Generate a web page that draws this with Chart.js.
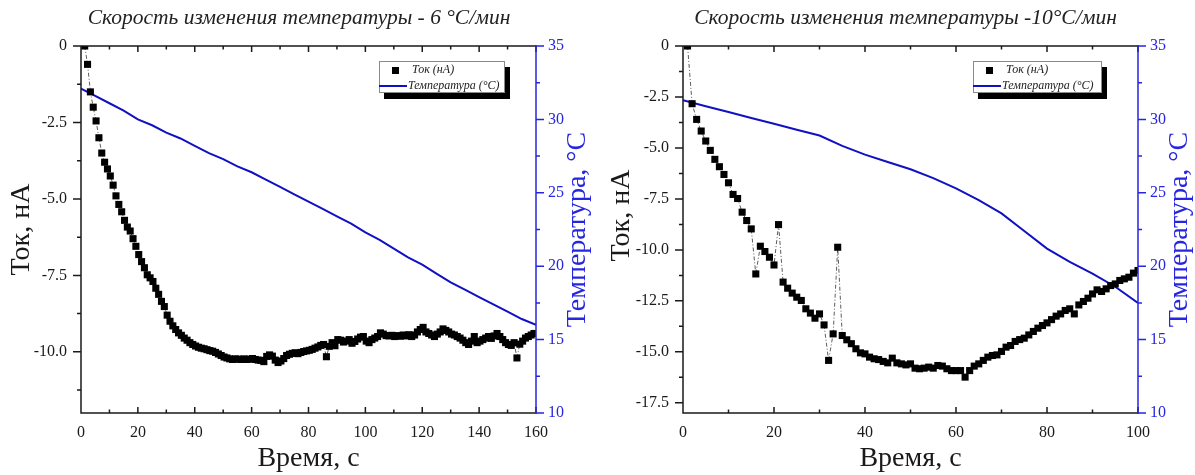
<!DOCTYPE html>
<html>
<head>
<meta charset="utf-8">
<script src="https://cdn.jsdelivr.net/npm/chart.js@4.4.1/dist/chart.umd.min.js"></script>
<style>
html, body { margin: 0; padding: 0; background: #fff; }
#wrap { position: relative; width: 1195px; height: 475px; overflow: hidden; }
canvas { position: absolute; top: 0; }
</style>
</head>
<body>
<div id="wrap">
  <canvas id="chartA" width="598" height="475" style="left:0"></canvas>
  <canvas id="chartB" width="597" height="475" style="left:598px"></canvas>
</div>
<script>
// ---- panel A: 6 °C/min ----
var titleA = 'Скорость изменения температуры - 6 °C/мин';
var currentStartA = 1.3;   // first sample, s
var currentStepA = 1;      // sampling interval, s
var currentA = [
  0, -0.6, -1.5, -2.0, -2.45, -3.0, -3.5, -3.8, -4.02, -4.25,
  -4.55, -4.9, -5.18, -5.42, -5.7, -5.92, -6.05, -6.3, -6.55, -6.82,
  -7.05, -7.25, -7.48, -7.58, -7.7, -7.92, -8.12, -8.35, -8.52, -8.8,
  -9.0, -9.15, -9.27, -9.38, -9.46, -9.55, -9.62, -9.7, -9.76, -9.81,
  -9.85, -9.88, -9.9, -9.93, -9.96, -9.98, -10.02, -10.07, -10.12, -10.17,
  -10.2, -10.23, -10.25, -10.23, -10.24, -10.25, -10.23, -10.25, -10.24, -10.22,
  -10.25, -10.27, -10.28, -10.32, -10.15, -10.1, -10.14, -10.27, -10.35, -10.3,
  -10.22, -10.12, -10.08, -10.05, -10.03, -10.06, -10.02, -9.99, -9.97, -9.95,
  -9.92, -9.88, -9.84, -9.79, -9.76, -10.16, -9.82, -9.7, -9.8, -9.6,
  -9.62, -9.68, -9.65, -9.6, -9.72, -9.66, -9.58, -9.52, -9.5, -9.65,
  -9.7, -9.6, -9.55, -9.5, -9.38, -9.42, -9.47, -9.48, -9.46, -9.5,
  -9.47, -9.49, -9.45, -9.48, -9.44, -9.5, -9.45, -9.35, -9.27, -9.2,
  -9.35, -9.4, -9.45, -9.5, -9.42, -9.35, -9.25, -9.3, -9.35, -9.42,
  -9.45, -9.5, -9.55, -9.62, -9.7, -9.76, -9.65, -9.5, -9.7, -9.65,
  -9.6, -9.55, -9.5, -9.56, -9.48, -9.4, -9.5, -9.6, -9.7, -9.76,
  -9.79, -9.7, -10.2, -9.75, -9.65, -9.55, -9.5, -9.45, -9.4
];
var tempTimeA = [0, 5, 10, 15, 20, 25, 30, 35, 40, 45, 50, 55, 60, 65, 70, 75, 80,
  85, 90, 95, 100, 105, 110, 115, 120, 125, 130, 135, 140, 145, 150, 155, 160];
var tempA = [32.1, 31.6, 31.1, 30.6, 30.0, 29.6, 29.1, 28.7, 28.2, 27.7, 27.3, 26.8, 26.4,
  25.9, 25.4, 24.9, 24.4, 23.9, 23.4, 22.9, 22.3, 21.8, 21.2, 20.6, 20.1, 19.5, 18.9,
  18.4, 17.9, 17.4, 16.9, 16.4, 16.0];
var xTicksA = [0, 20, 40, 60, 80, 100, 120, 140, 160];
var yTicksA = [0, -2.5, -5, -7.5, -10];

// ---- panel B: -10 °C/min ----
var titleB = 'Скорость изменения температуры -10°C/мин';
var currentStartB = 1;
var currentStepB = 1;
var currentB = [
  0, -2.83, -3.6, -4.17, -4.66, -5.12, -5.56, -5.92, -6.3, -6.71,
  -7.28, -7.48, -8.15, -8.56, -8.97, -11.18, -9.82, -10.08, -10.36, -10.74,
  -8.76, -11.58, -11.88, -12.12, -12.32, -12.48, -12.89, -13.1, -13.35, -13.14,
  -13.68, -15.42, -14.12, -9.87, -14.2, -14.41, -14.6, -14.85, -15.05, -15.1,
  -15.26, -15.34, -15.38, -15.47, -15.54, -15.31, -15.54, -15.59, -15.64, -15.59,
  -15.8, -15.83, -15.8, -15.75, -15.8, -15.67, -15.7, -15.83, -15.92, -15.92,
  -15.92, -16.24, -15.92, -15.7, -15.59, -15.42, -15.26, -15.18, -15.15, -14.98,
  -14.77, -14.69, -14.49, -14.4, -14.33, -14.17, -14.0, -13.84, -13.71, -13.58,
  -13.42, -13.25, -13.14, -12.97, -12.89, -13.14, -12.7, -12.53, -12.37, -12.16,
  -11.96, -12.04, -11.91, -11.75, -11.67, -11.5, -11.42, -11.34, -11.14, -11.01
];
var tempTimeB = [0, 5, 10, 15, 20, 25, 30, 35, 40, 45, 50, 55, 60, 65, 70, 75, 80, 85, 90, 95, 100];
var tempB = [31.3, 30.9, 30.5, 30.1, 29.7, 29.3, 28.9, 28.2, 27.6, 27.1, 26.6, 26.0, 25.3,
  24.5, 23.6, 22.4, 21.2, 20.3, 19.5, 18.6, 17.5];
var xTicksB = [0, 20, 40, 60, 80, 100];
var yTicksB = [0, -2.5, -5, -7.5, -10, -12.5, -15, -17.5];

var tempTicks = [10, 15, 20, 25, 30, 35];

var ink = '#1a1a1a';
var blueAxis = '#2626e0';
var blueLine = '#1010c4';
var serif = '"Liberation Serif", "Times New Roman", serif';

function pairs(xs, ys) {
  return ys.map(function (v, i) { return { x: xs[i], y: v }; });
}
function sampled(start, step, ys) {
  return ys.map(function (v, i) { return { x: start + i * step, y: v }; });
}
function fixedTicks(list) {
  return function (scale) {
    scale.ticks = list.map(function (v) { return { value: v }; });
  };
}
function isMult(v, m) {
  return Math.abs(v / m - Math.round(v / m)) < 1e-6;
}
function vText(ctx, text, x, y, color) {
  ctx.save();
  ctx.translate(x, y);
  ctx.rotate(-Math.PI / 2);
  ctx.font = '28px ' + serif;
  ctx.fillStyle = color;
  ctx.textAlign = 'center';
  ctx.textBaseline = 'middle';
  ctx.fillText(text, 0, 0);
  ctx.restore();
}

// spines, inward/outward ticks, axis titles and the boxed legend
var framePlugin = {
  id: 'frame',
  afterDatasetsDraw: function (chart, args, o) {
    var ctx = chart.ctx, a = chart.chartArea;
    var sx = chart.scales.x, sy = chart.scales.y, sr = chart.scales.y2;
    var v, p, len;
    ctx.save();
    ctx.lineWidth = 1.5;
    ctx.strokeStyle = ink;
    ctx.beginPath();
    ctx.moveTo(a.right, a.top); ctx.lineTo(a.left, a.top);
    ctx.lineTo(a.left, a.bottom); ctx.lineTo(a.right, a.bottom);
    for (v = sx.min; v <= sx.max + 1e-6; v += o.xMinor) {
      p = sx.getPixelForValue(v);
      len = isMult(v, o.xMinor * 2) ? 6 : 3.5;
      ctx.moveTo(p, a.bottom); ctx.lineTo(p, a.bottom - len);
      ctx.moveTo(p, a.top); ctx.lineTo(p, a.top + len);
    }
    for (v = 0; v >= o.yLow - 1e-6; v -= 1.25) {
      p = sy.getPixelForValue(v);
      len = isMult(v, 2.5) ? 8 : 4;
      ctx.moveTo(a.left, p); ctx.lineTo(a.left - len, p);
    }
    ctx.stroke();

    ctx.strokeStyle = blueAxis;
    ctx.beginPath();
    ctx.moveTo(a.right, a.top - 1); ctx.lineTo(a.right, a.bottom + 1);
    for (v = 10; v <= 35 + 1e-6; v += 2.5) {
      p = sr.getPixelForValue(v);
      len = isMult(v, 5) ? 8 : 4;
      ctx.moveTo(a.right, p); ctx.lineTo(a.right + len, p);
    }
    ctx.stroke();

    var midY = (a.top + a.bottom) / 2;
    vText(ctx, 'Ток, нА', o.leftTitleX, midY + o.leftTitleShift, ink);
    vText(ctx, 'Температура, °C', a.right + o.rightTitleGap, midY, blueAxis);

    // legend box with drop shadow
    var bx = a.right - o.legendRight, by = a.top + 15, bw = o.legendW, bh = 32;
    ctx.fillStyle = '#000';
    ctx.fillRect(bx + 5, by + 6, bw, bh);
    ctx.fillStyle = '#fff';
    ctx.fillRect(bx, by, bw, bh);
    ctx.lineWidth = 1;
    ctx.strokeStyle = '#8a8a8a';
    ctx.strokeRect(bx + 0.5, by + 0.5, bw - 1, bh - 1);
    ctx.fillStyle = '#000';
    ctx.fillRect(bx + 13, by + 6, 7, 7);
    ctx.strokeStyle = blueLine;
    ctx.lineWidth = 2;
    ctx.beginPath();
    ctx.moveTo(bx, by + 25); ctx.lineTo(bx + 28, by + 25);
    ctx.stroke();
    ctx.font = 'italic 12px ' + serif;
    ctx.fillStyle = '#222';
    ctx.textBaseline = 'middle';
    ctx.textAlign = 'left';
    ctx.fillText('Ток (нА)', bx + 33, by + 9);
    ctx.fillText('Температура (°C)', bx + 29, by + 25);
    ctx.restore();
  }
};

function makeChart(id, cfg) {
  return new Chart(document.getElementById(id), {
    type: 'line',
    data: {
      datasets: [
        {
          label: 'Ток (нА)',
          data: cfg.current,
          yAxisID: 'y',
          borderColor: '#333',
          borderWidth: 0.8,
          borderDash: [4, 2, 1, 2],
          pointStyle: 'rect',
          pointRadius: 5,
          pointBorderWidth: 0,
          pointBackgroundColor: '#000',
          tension: 0
        },
        {
          label: 'Температура (°C)',
          data: cfg.temp,
          yAxisID: 'y2',
          borderColor: blueLine,
          borderWidth: 2,
          pointRadius: 0,
          tension: 0
        }
      ]
    },
    options: {
      responsive: false,
      animation: false,
      devicePixelRatio: 1,
      layout: { padding: { left: cfg.padLeft, right: 0, top: 0, bottom: 0 } },
      plugins: {
        legend: { display: false },
        tooltip: { enabled: false },
        title: {
          display: true,
          text: cfg.title,
          color: '#222',
          font: { family: serif, size: 21.5, style: 'italic', weight: 'normal', lineHeight: 1.1 },
          padding: { top: 7, bottom: 15.35 }
        },
        frame: cfg.frame
      },
      scales: {
        x: {
          type: 'linear',
          position: 'bottom',
          min: 0,
          max: cfg.xMax,
          afterBuildTicks: fixedTicks(cfg.xTicks),
          afterFit: function (s) { s.height = 62; },
          grid: { display: false, drawTicks: false },
          border: { display: false },
          ticks: { color: ink, padding: 10, maxRotation: 0, font: { family: serif, size: 16 } },
          title: {
            display: true,
            text: 'Время, с',
            color: ink,
            font: { family: serif, size: 28, lineHeight: 1.2 },
            padding: { top: 0, bottom: 0 }
          }
        },
        y: {
          type: 'linear',
          position: 'left',
          min: cfg.yMin,
          max: 0,
          afterBuildTicks: fixedTicks(cfg.yTicks),
          afterFit: function (s) { s.width = cfg.yWidth; },
          grid: { display: false, drawTicks: false },
          border: { display: false },
          ticks: {
            color: ink,
            padding: 14,
            font: { family: serif, size: 16 },
            callback: function (v) { return v === 0 ? '0' : v.toFixed(1); }
          }
        },
        y2: {
          type: 'linear',
          position: 'right',
          min: 10,
          max: 35,
          afterBuildTicks: fixedTicks(tempTicks),
          afterFit: function (s) { s.width = cfg.y2Width; },
          grid: { display: false, drawTicks: false },
          border: { display: false },
          ticks: { color: blueAxis, padding: 12, font: { family: serif, size: 16 } }
        }
      }
    },
    plugins: [framePlugin]
  });
}

makeChart('chartA', {
  title: titleA,
  current: sampled(currentStartA, currentStepA, currentA),
  temp: pairs(tempTimeA, tempA),
  xMax: 160,
  xTicks: xTicksA,
  yMin: -12,
  yTicks: yTicksA,
  padLeft: 0,
  yWidth: 81,
  y2Width: 62,
  frame: { xMinor: 10, yLow: -12, leftTitleX: 22, leftTitleShift: 0, rightTitleGap: 42, legendRight: 157, legendW: 126 }
});

makeChart('chartB', {
  title: titleB,
  current: sampled(currentStartB, currentStepB, currentB),
  temp: pairs(tempTimeB, tempB),
  xMax: 100,
  xTicks: xTicksB,
  yMin: -18,
  yTicks: yTicksB,
  padLeft: 18,
  yWidth: 67,
  y2Width: 57,
  frame: { xMinor: 10, yLow: -17.5, leftTitleX: 24, leftTitleShift: -14, rightTitleGap: 42, legendRight: 165, legendW: 129 }
});
</script>
</body>
</html>
